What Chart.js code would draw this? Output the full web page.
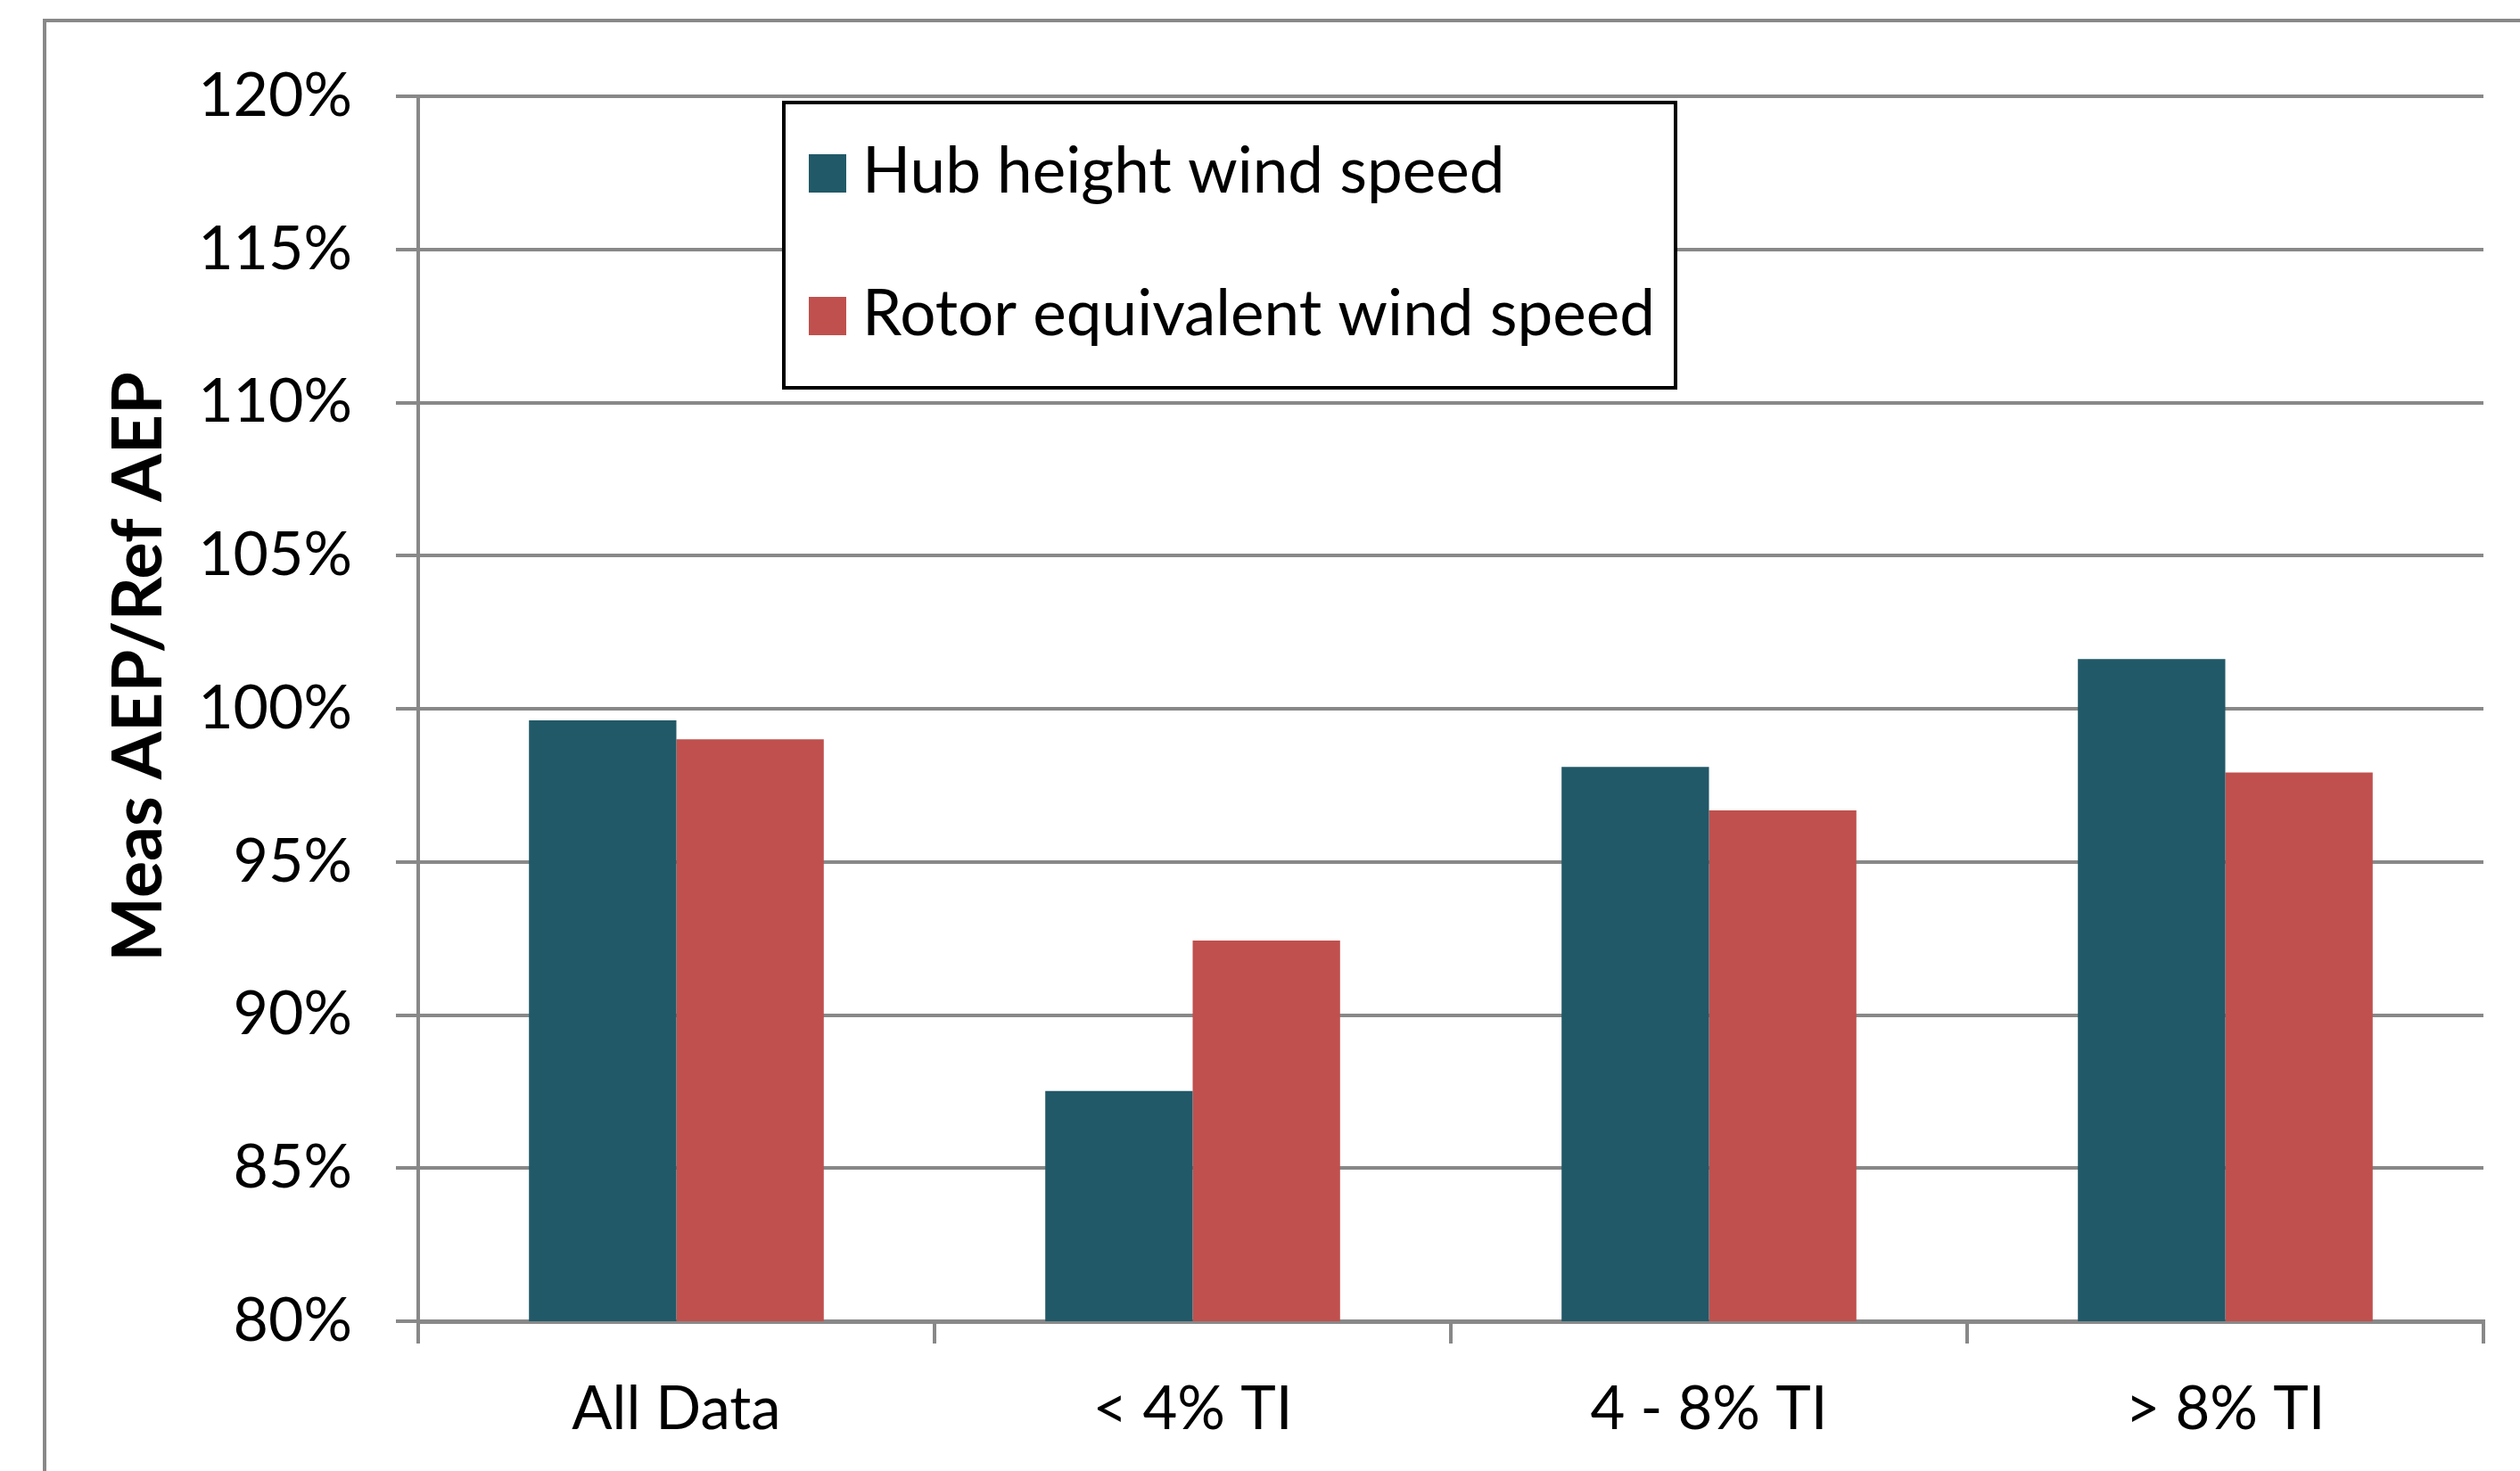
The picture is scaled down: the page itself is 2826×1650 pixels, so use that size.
<!DOCTYPE html>
<html>
<head>
<meta charset="utf-8">
<script src="https://cdn.jsdelivr.net/npm/chart.js@4/dist/chart.umd.min.js"></script>
<style>
  html, body { margin: 0; padding: 0; background: #ffffff; }
  #wrap { position: relative; width: 2826px; height: 1650px; }
  canvas { display: block; }
</style>
</head>
<body>
<div id="wrap"><canvas id="c" width="2826" height="1650"></canvas></div>
<script>
const categories = ['All Data', '< 4% TI', '4 - 8% TI', '> 8% TI'];
const hubHeight = [99.62, 87.52, 98.10, 101.62];
const rotorEquivalent = [99.00, 92.43, 96.68, 97.92];
const seriesNames = ['Hub height wind speed', 'Rotor equivalent wind speed'];
const yTickLabels = ['80%', '85%', '90%', '95%', '100%', '105%', '110%', '115%', '120%'];
const yAxisTitle = 'Meas AEP/Ref AEP';

const FONT = 'Lato, "Open Sans", sans-serif';
const GRID = '#888888';

const framePlugin = {
  id: 'frame',
  beforeDraw(chart) {
    const ctx = chart.ctx;
    ctx.save();
    ctx.fillStyle = '#ffffff';
    ctx.fillRect(0, 0, chart.width, chart.height);
    ctx.strokeStyle = GRID;
    ctx.lineWidth = 4;
    ctx.beginPath();
    ctx.moveTo(50, chart.height + 5);
    ctx.lineTo(50, 23);
    ctx.lineTo(chart.width + 5, 23);
    ctx.stroke();
    ctx.restore();
  }
};

const yTitlePlugin = {
  id: 'yTitle',
  afterDraw(chart) {
    const ctx = chart.ctx;
    ctx.save();
    ctx.translate(156, 748);
    ctx.rotate(-Math.PI / 2);
    ctx.font = 'bold 77px ' + FONT;
    ctx.fillStyle = '#000000';
    ctx.textAlign = 'center';
    ctx.textBaseline = 'middle';
    ctx.fillText(yAxisTitle, 0, 0);
    ctx.restore();
  }
};

const legendPlugin = {
  id: 'boxLegend',
  afterDraw(chart) {
    const ctx = chart.ctx;
    const x0 = 879, y0 = 115, x1 = 1879, y1 = 435;
    ctx.save();
    ctx.fillStyle = '#ffffff';
    ctx.fillRect(x0, y0, x1 - x0, y1 - y0);
    ctx.strokeStyle = '#000000';
    ctx.lineWidth = 4;
    ctx.strokeRect(x0, y0, x1 - x0, y1 - y0);
    const baselines = [216, 376];
    ctx.font = '71px ' + FONT;
    ctx.textAlign = 'left';
    ctx.textBaseline = 'alphabetic';
    chart.data.datasets.forEach((ds, i) => {
      ctx.fillStyle = ds.backgroundColor;
      ctx.fillRect(907, baselines[i] - 43, 42, 43);
      ctx.fillStyle = '#000000';
      ctx.fillText(ds.label, 967, baselines[i]);
    });
    ctx.restore();
  }
};

new Chart(document.getElementById('c'), {
  type: 'bar',
  data: {
    labels: categories,
    datasets: [
      { label: seriesNames[0], data: hubHeight, backgroundColor: '#215968', borderWidth: 0 },
      { label: seriesNames[1], data: rotorEquivalent, backgroundColor: '#C0504D', borderWidth: 0 }
    ]
  },
  options: {
    responsive: false,
    animation: false,
    devicePixelRatio: 1,
    layout: { padding: { left: 0, top: 108, right: 41, bottom: 0 } },
    datasets: { bar: { categoryPercentage: 0.571, barPercentage: 1.0 } },
    plugins: {
      legend: { display: false },
      tooltip: { enabled: false },
      title: { display: false }
    },
    scales: {
      x: {
        offset: true,
        grid: {
          offset: true,
          drawOnChartArea: false,
          drawTicks: true,
          tickLength: 25,
          color: GRID,
          lineWidth: 4
        },
        border: { display: true, color: GRID, width: 5 },
        ticks: {
          color: '#000000',
          font: { family: FONT, size: 67 },
          padding: 34,
          maxRotation: 0,
          autoSkip: false
        },
        afterFit(scale) { scale.height = 168; }
      },
      y: {
        min: 80,
        max: 120,
        grid: {
          color: GRID,
          lineWidth: 4,
          drawTicks: true,
          tickLength: 25
        },
        border: { display: true, color: GRID, width: 4 },
        ticks: {
          stepSize: 5,
          color: '#000000',
          font: { family: FONT, size: 68 },
          padding: 49,
          callback: (v, i) => yTickLabels[i]
        },
        title: { display: false },
        afterFit(scale) { scale.width = 469; }
      }
    }
  },
  plugins: [framePlugin, yTitlePlugin, legendPlugin]
});
</script>
</body>
</html>
